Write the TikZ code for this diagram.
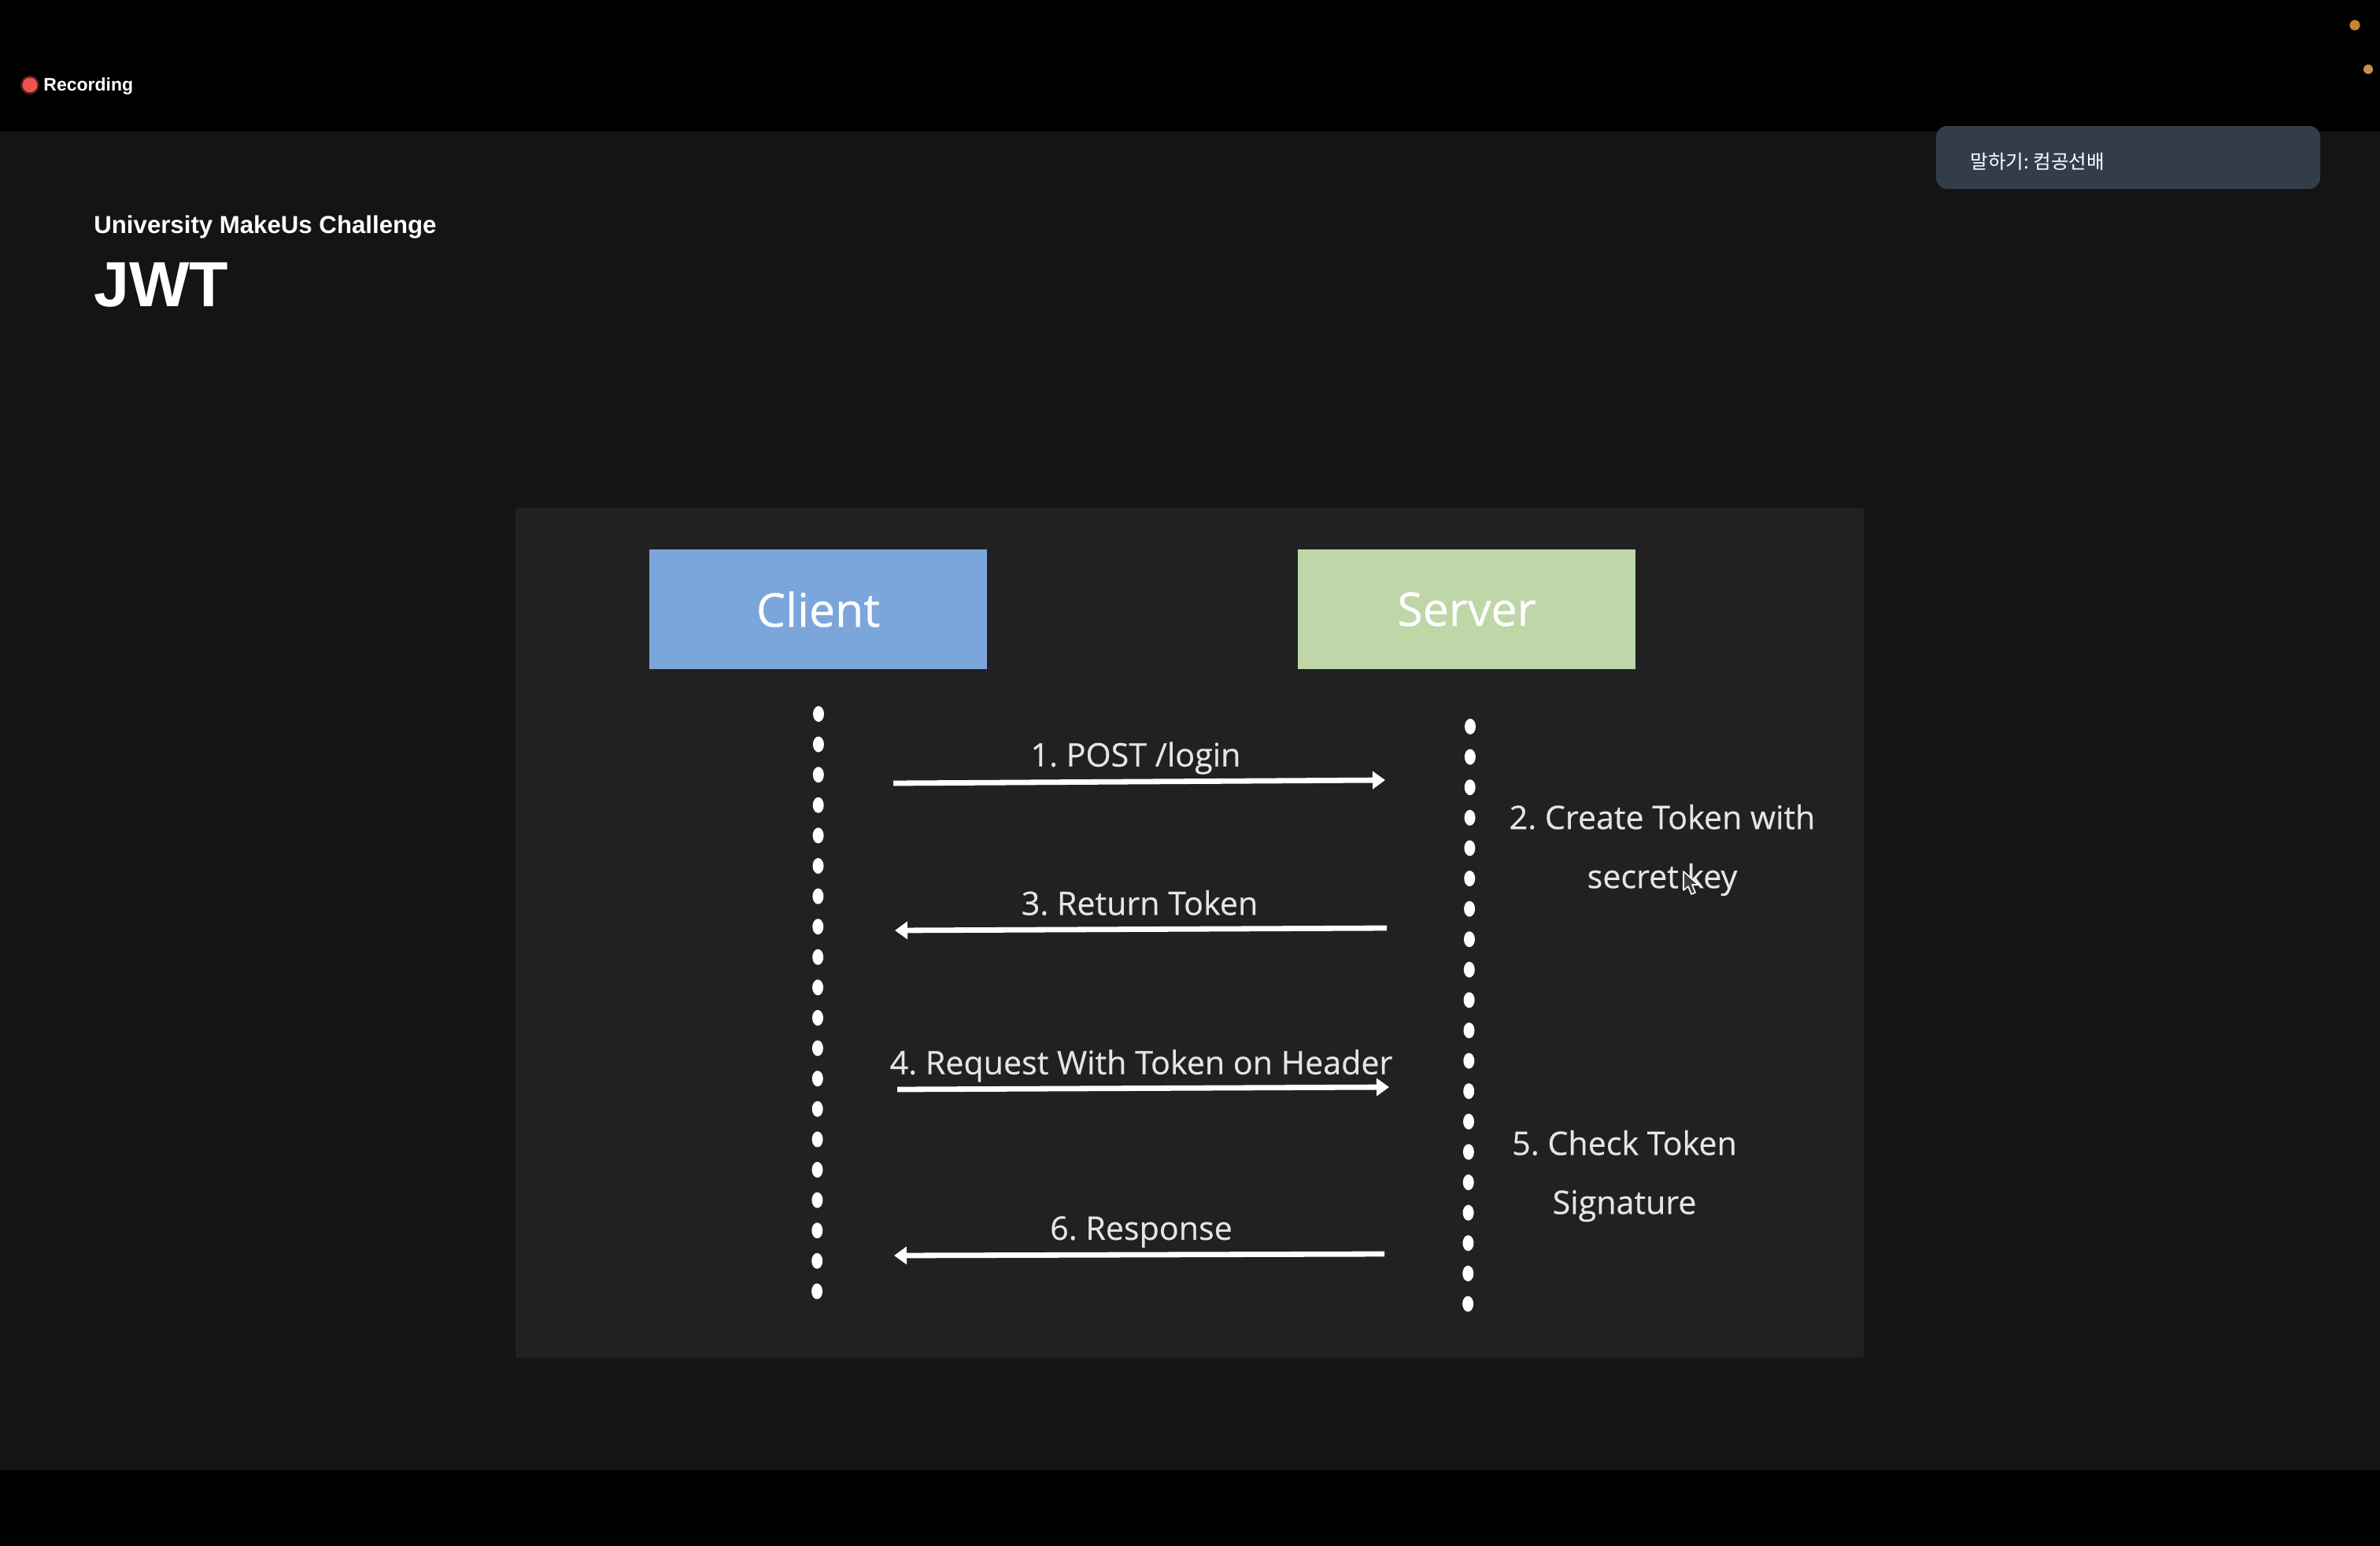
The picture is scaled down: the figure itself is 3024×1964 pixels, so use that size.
\documentclass[tikz,border=0pt]{standalone}
\usepackage{fontspec}
\setmainfont{Open Sans}
\newfontfamily\slidefont{Open Sans}[FakeBold=0.4]
\newfontfamily\uifont{Liberation Sans}
\newfontfamily\krfont{Noto Sans CJK KR}
\usetikzlibrary{arrows.meta,positioning,shapes.geometric}
\definecolor{pagebg}{HTML}{141415}
\definecolor{panelbg}{HTML}{212123}
\definecolor{clientblue}{HTML}{7BA6DC}
\definecolor{servergreen}{HTML}{BFD6A8}
\definecolor{tipbg}{HTML}{333D4A}
\definecolor{recred}{HTML}{EF5350}
\definecolor{dotone}{HTML}{C8842E}
\definecolor{dottwo}{HTML}{C9904A}
\frenchspacing

\begin{document}
\begin{tikzpicture}[x=.5pt,y=-.5pt,every node/.style={align=center,text=white},
 box/.style={minimum width=214.5pt,minimum height=76pt,inner sep=0pt,outer sep=0pt,font=\slidefont\fontsize{29.5}{36}\selectfont},
 lifedot/.style={ellipse,fill=white,minimum width=7pt,minimum height=10pt,inner sep=0pt},
 msg/.style={font=\slidefont\fontsize{20.6}{37.5}\selectfont,text=white!90!black,inner sep=0pt},
 arr/.style={-{Triangle[length=8pt,width=11pt]},line width=3.4pt,white}]
\useasboundingbox (0,0) rectangle (3024,1964);
\fill[black] (0,0) rectangle (3024,1964);
\fill[pagebg] (0,167) rectangle (3024,1868);
\fill[panelbg] (655,645) rectangle (2368,1725);
% top bar
\fill[recred!35!black] (38,108) circle (6pt);
\fill[recred] (38,108) circle (4.7pt);
\node[anchor=west,inner sep=0pt,font=\uifont\fontsize{11.5}{14}\selectfont\bfseries] (rec) at (55,110) {Recording};
\fill[dotone] (2992,32) circle (3.3pt);
\fill[dottwo] (3009,88) circle (3pt);
\node[fill=tipbg,rounded corners=7pt,minimum width=244pt,minimum height=40pt,inner sep=0pt] (tip) at (2704,200) {};
\node[anchor=west,inner sep=0pt,font=\krfont\fontsize{12.3}{14}\selectfont] (speaker) at (2503,205) {말하기: 컴공선배};
% title
\node[anchor=west,inner sep=0pt,font=\uifont\fontsize{15.6}{20}\selectfont\bfseries] (sub) at (119,288) {University MakeUs Challenge};
\node[anchor=west,inner sep=0pt,font=\uifont\fontsize{40.5}{46}\selectfont\bfseries] (title) at (119,362) {JWT};
% diagram
\node[box,fill=clientblue] (client) at (1039.5,774) {Client};
\node[box,fill=servergreen,right=197.5pt of client] (server) {Server};
\foreach \i in {0,...,19} {
 \node[lifedot] (c\i) at ({1040-.1*\i},{907+38.6*\i}) {};
 \node[lifedot] (s\i) at ({1868-.15*\i},{923+38.6*\i}) {};
}
\coordinate (a1) at (1135,995); \coordinate (b1) at (1760,991);
\coordinate (a3) at (1762,1179); \coordinate (b3) at (1137,1182);
\coordinate (a4) at (1140,1384); \coordinate (b4) at (1765,1381);
\coordinate (a6) at (1759,1593); \coordinate (b6) at (1136,1595);
\draw[arr] (a1)--(b1);\draw[arr] (a3)--(b3);\draw[arr] (a4)--(b4);\draw[arr] (a6)--(b6);
\node[msg] (m1) at (1443,963) {1. POST /login};
\node[msg] (m3) at (1448,1147) {3. Return Token};
\node[msg] (m4) at (1450,1354) {4. Request With Token on Header};
\node[msg] (m6) at (1450,1565) {6. Response};
\node[msg] (m2) at (2112,1080) {2. Create Token with\\secret key};
\node[msg] (m5) at (2064,1494) {5. Check Token\\Signature};
% mouse pointer
\filldraw[fill=black!75,draw=white,line width=.8pt,line join=round] (2139,1107)--(2139,1131)--(2145,1126)--(2149,1136)--(2154,1134)--(2150,1124)--(2158,1124)--cycle;
\end{tikzpicture}
\end{document}
